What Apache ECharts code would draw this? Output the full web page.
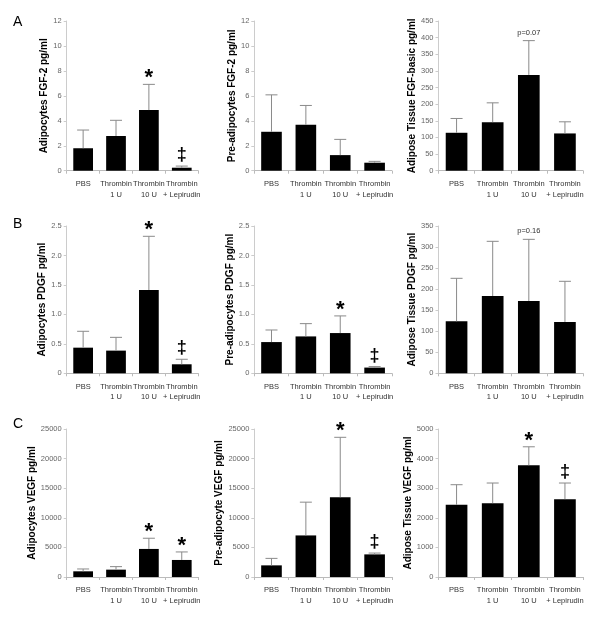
<!DOCTYPE html>
<html><head><meta charset="utf-8">
<script src="https://cdn.jsdelivr.net/npm/echarts@6/dist/echarts.min.js"></script>
<style>html,body{margin:0;padding:0;background:#fff}#c{width:600px;height:621px}</style>
</head><body><div id="c"></div>
<script>
// ---- data ----
const categories = ['PBS', 'Thrombin\n1 U', 'Thrombin\n10 U', 'Thrombin\n+ Lepirudin'];

const fgfAdipMean = [1.8, 2.78, 4.86, 0.24];
const fgfAdipSD   = [1.46, 1.26, 2.06, 0.13];
const fgfAdipAnn  = ['', '', '*', '‡'];

const fgfPreMean = [3.12, 3.68, 1.25, 0.64];
const fgfPreSD   = [2.96, 1.55, 1.26, 0.11];
const fgfPreAnn  = ['', '', '', ''];

const fgfTisMean = [114, 146, 288, 112];
const fgfTisSD   = [43, 58, 103, 35];
const fgfTisAnn  = ['', '', 'p=0.07', ''];

const pdgfAdipMean = [0.435, 0.385, 1.414, 0.153];
const pdgfAdipSD   = [0.278, 0.225, 0.911, 0.085];
const pdgfAdipAnn  = ['', '', '*', '‡'];

const pdgfPreMean = [0.53, 0.626, 0.683, 0.097];
const pdgfPreSD   = [0.205, 0.217, 0.291, 0.017];
const pdgfPreAnn  = ['', '', '*', '‡'];

const pdgfTisMean = [123.5, 183.7, 171.8, 122];
const pdgfTisSD   = [102.2, 129.9, 146.5, 96.6];
const pdgfTisAnn  = ['', '', 'p=0.16', ''];

const vegfAdipMean = [959, 1241, 4740, 2878];
const vegfAdipSD   = [395, 509, 1806, 1355];
const vegfAdipAnn  = ['', '', '*', '*'];

const vegfPreMean = [1966, 7022, 13483, 3820];
const vegfPreSD   = [1180, 5618, 10113, 225];
const vegfPreAnn  = ['', '', '*', '‡'];

const vegfTisMean = [2438, 2494, 3776, 2630];
const vegfTisSD   = [680, 681, 623, 545];
const vegfTisAnn  = ['', '', '*', '‡'];

const yTitles = [
  'Adipocytes FGF-2 pg/ml', 'Pre-adipocytes FGF-2 pg/ml', 'Adipose Tissue FGF-basic pg/ml',
  'Adipocytes PDGF pg/ml', 'Pre-adipocytes PDGF pg/ml', 'Adipose Tissue PDGF pg/ml',
  'Adipocytes VEGF pg/ml', 'Pre-adipocyte VEGF pg/ml', 'Adipose Tissue VEGF pg/ml'
];
const yMax = [12, 12, 450, 2.5, 2.5, 350, 25000, 25000, 5000];
const yStep = [2, 2, 50, 0.5, 0.5, 50, 5000, 5000, 1000];
const panelLetters = ['A', 'B', 'C'];

// ---- layout ----
const panels = [
  [fgfAdipMean, fgfAdipSD, fgfAdipAnn], [fgfPreMean, fgfPreSD, fgfPreAnn], [fgfTisMean, fgfTisSD, fgfTisAnn],
  [pdgfAdipMean, pdgfAdipSD, pdgfAdipAnn], [pdgfPreMean, pdgfPreSD, pdgfPreAnn], [pdgfTisMean, pdgfTisSD, pdgfTisAnn],
  [vegfAdipMean, vegfAdipSD, vegfAdipAnn], [vegfPreMean, vegfPreSD, vegfPreAnn], [vegfTisMean, vegfTisSD, vegfTisAnn]
];
const cols = [{left: 66.7, width: 131.5}, {left: 254.3, width: 137.5}, {left: 438.5, width: 144.5}];
const rows = [{top: 21, height: 149.7}, {top: 226, height: 147.3}, {top: 429, height: 148}];
const nameGaps = [16, 14, 20, 16, 14, 17.5, 25, 24, 24];
const letterTops = [15, 217, 417];
const FONT = '"Liberation Sans", Arial, sans-serif';

const grid = [], xAxis = [], yAxis = [], series = [], graphic = [];
for (let k = 0; k < 9; k++) {
  const r = Math.floor(k / 3), c = k % 3;
  grid.push({left: cols[c].left, width: cols[c].width, top: rows[r].top, height: rows[r].height, containLabel: false});
  xAxis.push({
    type: 'category', gridIndex: k, data: categories,
    axisLine: {lineStyle: {color: '#bbbbbb', width: 1}},
    axisTick: {show: true, length: 3, lineStyle: {color: '#bbbbbb'}},
    axisLabel: {fontFamily: FONT, fontSize: 7.5, color: '#333', margin: 8, lineHeight: 10.5, interval: 0}
  });
  const step = yStep[k];
  yAxis.push({
    type: 'value', gridIndex: k, min: 0, max: yMax[k], interval: step,
    name: yTitles[k], nameLocation: 'middle', nameGap: nameGaps[k],
    nameTextStyle: {fontFamily: FONT, fontSize: 10, fontWeight: 'bold', color: '#000'},
    axisLine: {show: true, lineStyle: {color: '#cccccc', width: 1}},
    axisTick: {show: true, length: 3, lineStyle: {color: '#cccccc'}},
    splitLine: {show: false},
    axisLabel: {fontFamily: FONT, fontSize: 7.5, color: '#666', margin: 5,
      formatter: v => (v === 0 ? '0' : (step < 1 ? v.toFixed(1) : String(v)))}
  });
  const [mean, sd, ann] = panels[k];
  series.push({
    type: 'bar', xAxisIndex: k, yAxisIndex: k, data: mean, barWidth: '60%',
    itemStyle: {color: '#000'}, silent: true, animation: false
  });
  series.push({
    type: 'custom', xAxisIndex: k, yAxisIndex: k, animation: false, silent: true, z: 5,
    data: mean.map((m, i) => [i, m, sd[i]]),
    renderItem: (params, api) => {
      const i = api.value(0), m = api.value(1), s = api.value(2);
      const p0 = api.coord([i, m]);
      const p1 = api.coord([i, m + s]);
      const children = [
        {type: 'line', shape: {x1: p0[0], y1: p0[1], x2: p1[0], y2: p1[1]}, style: {stroke: '#8a8a8a', lineWidth: 1}},
        {type: 'line', shape: {x1: p1[0] - 6, y1: p1[1], x2: p1[0] + 6, y2: p1[1]}, style: {stroke: '#8a8a8a', lineWidth: 1}}
      ];
      const a = ann[params.dataIndex];
      if (a === '*') {
        children.push({type: 'text', x: p1[0], y: p1[1] - 17, style: {text: '*', fontFamily: FONT, fontSize: 22, fontWeight: 'bold', fill: '#000', align: 'center', verticalAlign: 'top'}});
      } else if (a === '‡') {
        children.push({type: 'text', x: p1[0], y: p1[1] - 2, style: {text: '‡', fontFamily: FONT, fontSize: 18, fontWeight: 'bold', fill: '#000', align: 'center', verticalAlign: 'bottom'}});
      } else if (a) {
        children.push({type: 'text', x: p1[0], y: p1[1] - 4, style: {text: a, fontFamily: FONT, fontSize: 7.5, fill: '#333', align: 'center', verticalAlign: 'bottom'}});
      }
      return {type: 'group', children};
    }
  });
}
for (let r = 0; r < 3; r++) {
  graphic.push({type: 'text', left: 13, top: letterTops[r], style: {text: panelLetters[r], fontFamily: FONT, fontSize: 14, fill: '#000'}});
}

const chart = echarts.init(document.getElementById('c'), null, {renderer: 'canvas'});
chart.setOption({animation: false, grid, xAxis, yAxis, series, graphic});
</script></body></html>
